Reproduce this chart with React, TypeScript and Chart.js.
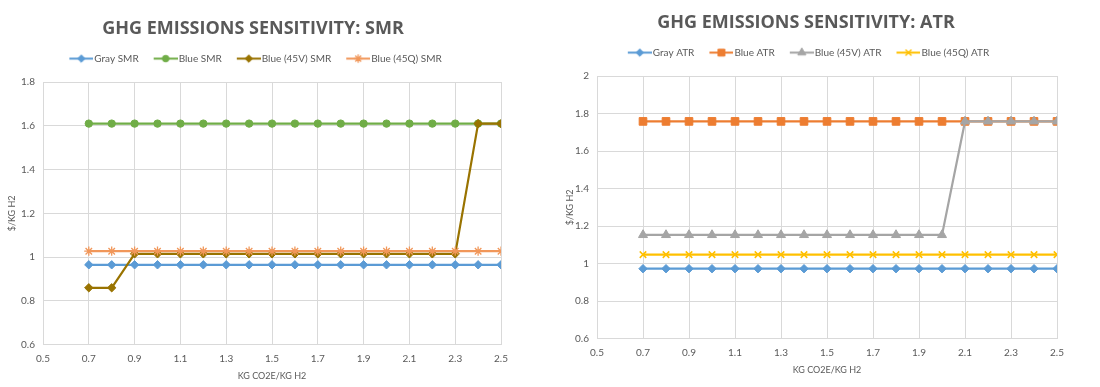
import React, { useEffect, useRef } from 'react';
import { Chart, registerables } from 'chart.js';
import { drawPoint } from 'chart.js/helpers';

Chart.register(...registerables);

// ---------- data ----------
const xValues = [0.7, 0.8, 0.9, 1.0, 1.1, 1.2, 1.3, 1.4, 1.5, 1.6, 1.7, 1.8, 1.9, 2.0, 2.1, 2.2, 2.3, 2.4, 2.5];

const smrLabels = ['Gray SMR', 'Blue SMR', 'Blue (45V) SMR', 'Blue (45Q) SMR'];
const smrGray = [0.965, 0.965, 0.965, 0.965, 0.965, 0.965, 0.965, 0.965, 0.965, 0.965, 0.965, 0.965, 0.965, 0.965, 0.965, 0.965, 0.965, 0.965, 0.965];
const smrBlue = [1.61, 1.61, 1.61, 1.61, 1.61, 1.61, 1.61, 1.61, 1.61, 1.61, 1.61, 1.61, 1.61, 1.61, 1.61, 1.61, 1.61, 1.61, 1.61];
const smr45V = [0.86, 0.86, 1.015, 1.015, 1.015, 1.015, 1.015, 1.015, 1.015, 1.015, 1.015, 1.015, 1.015, 1.015, 1.015, 1.015, 1.015, 1.61, 1.61];
const smr45Q = [1.027, 1.027, 1.027, 1.027, 1.027, 1.027, 1.027, 1.027, 1.027, 1.027, 1.027, 1.027, 1.027, 1.027, 1.027, 1.027, 1.027, 1.027, 1.027];

const atrLabels = ['Gray ATR', 'Blue ATR', 'Blue (45V) ATR', 'Blue (45Q) ATR'];
const atrGray = [0.973, 0.973, 0.973, 0.973, 0.973, 0.973, 0.973, 0.973, 0.973, 0.973, 0.973, 0.973, 0.973, 0.973, 0.973, 0.973, 0.973, 0.973, 0.973];
const atrBlue = [1.758, 1.758, 1.758, 1.758, 1.758, 1.758, 1.758, 1.758, 1.758, 1.758, 1.758, 1.758, 1.758, 1.758, 1.758, 1.758, 1.758, 1.758, 1.758];
const atr45V = [1.153, 1.153, 1.153, 1.153, 1.153, 1.153, 1.153, 1.153, 1.153, 1.153, 1.153, 1.153, 1.153, 1.153, 1.758, 1.758, 1.758, 1.758, 1.758];
const atr45Q = [1.048, 1.048, 1.048, 1.048, 1.048, 1.048, 1.048, 1.048, 1.048, 1.048, 1.048, 1.048, 1.048, 1.048, 1.048, 1.048, 1.048, 1.048, 1.048];

const xAxisMin = 0.5;
const xAxisMax = 2.5;
const xAxisStep = 0.2;
const yAxisStep = 0.2;
const smrYMin = 0.6;
const smrYMax = 1.8;
const atrYMin = 0.6;
const atrYMax = 2.0;

const smrTitle = 'GHG EMISSIONS SENSITIVITY: SMR';
const atrTitle = 'GHG EMISSIONS SENSITIVITY: ATR';
const xTitle = 'KG CO2E/KG H2';
const yTitle = '$/KG H2';

// ---------- styles ----------
const TEXT = '#595959';
const GRID = '#D9D9D9';
const SMALL_FONT = 'Lato';
const TITLE_FONT = 'Open Sans';

type SeriesStyle = { color: string; pointStyle: string; radius: number; borderWidth: number };

const smrStyles: SeriesStyle[] = [
  { color: '#5B9BD5', pointStyle: 'rectRot', radius: 4.2, borderWidth: 1 },
  { color: '#70AD47', pointStyle: 'circle', radius: 3.7, borderWidth: 1 },
  { color: '#997300', pointStyle: 'rectRot', radius: 4.2, borderWidth: 1 },
  { color: '#F1975A', pointStyle: 'star', radius: 4.6, borderWidth: 1.3 },
];
const atrStyles: SeriesStyle[] = [
  { color: '#5B9BD5', pointStyle: 'rectRot', radius: 4.2, borderWidth: 1 },
  { color: '#ED7D31', pointStyle: 'rect', radius: 5.4, borderWidth: 1 },
  { color: '#A5A5A5', pointStyle: 'triangle', radius: 5.2, borderWidth: 1 },
  { color: '#FFC000', pointStyle: 'crossRot', radius: 4.6, borderWidth: 1.5 },
];

function makeIcon(s: SeriesStyle): HTMLCanvasElement {
  const c = document.createElement('canvas');
  c.width = 33;
  c.height = 11;
  const ctx = c.getContext('2d')!;
  ctx.strokeStyle = s.color;
  ctx.fillStyle = s.color;
  ctx.lineWidth = 2;
  ctx.beginPath();
  ctx.moveTo(9, 5.5);
  ctx.lineTo(33, 5.5);
  ctx.stroke();
  ctx.lineWidth = s.borderWidth;
  drawPoint(ctx, { pointStyle: s.pointStyle as any, rotation: 0, radius: s.radius * 0.9, borderWidth: s.borderWidth }, 21, 5.5);
  return c;
}

type Spec = {
  title: string;
  labels: string[];
  series: number[][];
  styles: SeriesStyle[];
  yMin: number;
  yMax: number;
  yWidth: number;
  yTitlePad: number;
  padRight: number;
};

function buildConfig(spec: Spec): any {
  const icons = spec.styles.map(makeIcon);
  const datasets = spec.series.map((vals, i) => ({
    label: spec.labels[i],
    data: vals.map((v, j) => ({ x: xValues[j], y: v })),
    borderColor: spec.styles[i].color,
    backgroundColor: spec.styles[i].color,
    pointBackgroundColor: spec.styles[i].color,
    pointBorderColor: spec.styles[i].color,
    pointStyle: spec.styles[i].pointStyle,
    pointRadius: spec.styles[i].radius,
    pointBorderWidth: spec.styles[i].borderWidth,
    borderWidth: 2.2,
    tension: 0,
    order: -i,
  }));
  const fmt = (v: any) => String(Math.round(Number(v) * 10) / 10);
  return {
    type: 'line',
    data: { datasets },
    options: {
      animation: false,
      responsive: false,
      maintainAspectRatio: false,
      layout: { padding: { left: 0, right: spec.padRight, top: 0, bottom: 0 } },
      plugins: {
        tooltip: { enabled: false },
        title: {
          display: true,
          text: spec.title,
          color: TEXT,
          font: { family: TITLE_FONT, size: 18, weight: 'bold', lineHeight: 1.2 },
          padding: { top: 12, bottom: 4 },
          weight: 2000,
        },
        legend: {
          display: true,
          position: 'top',
          weight: 1000,
          labels: {
            color: TEXT,
            font: { family: SMALL_FONT, size: 10 },
            usePointStyle: true,
            pointStyleWidth: 25,
            padding: 10,
            generateLabels: (chart: any) => {
              const base = Chart.defaults.plugins.legend.labels.generateLabels(chart);
              return base
                .sort((a: any, b: any) => a.datasetIndex - b.datasetIndex)
                .map((l: any) => ({ ...l, pointStyle: icons[l.datasetIndex] }));
            },
          },
        },
        subtitle: {
          display: true,
          text: '',
          font: { size: 1, lineHeight: 1.2 },
          padding: { top: 7.2, bottom: 0 },
          weight: 500,
        },
      },
      scales: {
        x: {
          type: 'linear',
          min: xAxisMin,
          max: xAxisMax,
          grid: { color: GRID, drawTicks: false },
          border: { color: GRID },
          ticks: {
            stepSize: xAxisStep,
            color: TEXT,
            font: { family: SMALL_FONT, size: 10 },
            padding: 8,
            callback: fmt,
            maxRotation: 0,
            autoSkip: false,
          },
          title: {
            display: true,
            text: xTitle,
            color: TEXT,
            font: { family: SMALL_FONT, size: 9, lineHeight: 1.2 },
            padding: { top: -2.1, bottom: 5.6 },
          },
        },
        y: {
          type: 'linear',
          min: spec.yMin,
          max: spec.yMax,
          grid: { color: GRID, drawTicks: false },
          border: { color: GRID },
          ticks: {
            stepSize: yAxisStep,
            color: TEXT,
            font: { family: SMALL_FONT, size: 10 },
            padding: 8,
            callback: fmt,
          },
          title: {
            display: true,
            text: yTitle,
            color: TEXT,
            font: { family: SMALL_FONT, size: 9, lineHeight: 1.2 },
            padding: { top: spec.yTitlePad, bottom: 0 },
          },
          afterFit: (scale: any) => {
            scale.width = spec.yWidth;
          },
        },
      },
    },
  };
}

function ChartBox(props: { spec: Spec; left: number; top: number; width: number; height: number }) {
  const ref = useRef<HTMLCanvasElement | null>(null);
  useEffect(() => {
    if (!ref.current) return;
    const chart = new Chart(ref.current, buildConfig(props.spec));
    return () => chart.destroy();
  }, []);
  return (
    <canvas
      ref={ref}
      width={props.width}
      height={props.height}
      style={{ position: 'absolute', left: props.left, top: props.top, width: props.width, height: props.height }}
    />
  );
}

const smrSpec: Spec = {
  title: smrTitle,
  labels: smrLabels,
  series: [smrGray, smrBlue, smr45V, smr45Q],
  styles: smrStyles,
  yMin: smrYMin,
  yMax: smrYMax,
  yWidth: 43,
  yTitlePad: 6.6,
  padRight: 10,
};

const atrSpec: Spec = {
  title: atrTitle,
  labels: atrLabels,
  series: [atrGray, atrBlue, atr45V, atr45Q],
  styles: atrStyles,
  yMin: atrYMin,
  yMax: atrYMax,
  yWidth: 45,
  yTitlePad: 12.6,
  padRight: 12,
};

export default function App() {
  return (
    <div style={{ position: 'absolute', left: 0, top: 0, width: 1100, height: 387, background: '#ffffff', overflow: 'hidden' }}>
      <ChartBox spec={smrSpec} left={0} top={6} width={516} height={381} />
      <ChartBox spec={atrSpec} left={552} top={0} width={520} height={381} />
    </div>
  );
}
